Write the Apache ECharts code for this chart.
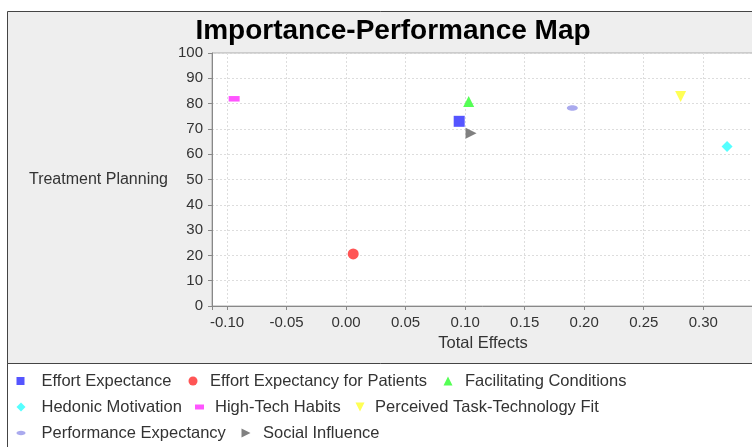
<!DOCTYPE html>
<html>
<head>
<meta charset="utf-8">
<script src="https://cdn.jsdelivr.net/npm/echarts@6/dist/echarts.min.js"></script>
<style>html,body{margin:0;padding:0;background:#fff}#c{width:752px;height:447px}</style>
</head>
<body>
<div id="c"></div>
<script>
var seriesNames = ['Effort Expectance','Effort Expectancy for Patients','Facilitating Conditions','Hedonic Motivation','High-Tech Habits','Perceived Task-Technology Fit','Performance Expectancy','Social Influence'];
var totalEffects = [0.095, 0.006, 0.103, 0.320, -0.094, 0.281, 0.190, 0.105];
var performance = [73.0, 20.6, 80.8, 63.0, 81.9, 82.8, 78.3, 68.3];
var colors = ['#5555ff','#ff5555','#55ff55','#55ffff','#ff55ff','#ffff55','#aaaaee','#808080'];
var symbols = ['rect','circle','triangle','diamond','rect','path://M0 0 H10 L5 10 Z','path://M0 5 C0 2.2 4.5 0 10 0 C15.5 0 20 2.2 20 5 C20 7.8 15.5 10 10 10 C4.5 10 0 7.8 0 5 Z','path://M0 0 L10 5 L0 10 Z'];
var xTickStep = 0.05;

var FONT = 'Liberation Sans, Arial, sans-serif';
var chart = echarts.init(document.getElementById('c'));

// legend layout: [iconLeft, rowTop, textOffset, iconW, iconH]
var legendPos = [[16.5,372,25,8,8],[188.5,372,21.5,9,9],[443.5,372,21.5,9,9],[16.5,398,25,9,9],[195,398,20,9,5],[355.5,398,19.5,9,9],[16.5,424,25,9,5],[241.5,424,21.5,9,9]];

var legends = seriesNames.map(function(n, i){
  var p = legendPos[i];
  return {
    data: [{name: n, icon: symbols[i]}],
    left: p[0], top: p[1],
    itemWidth: p[3], itemHeight: p[4],
    padding: 0,
    selectedMode: false,
    textStyle: {fontFamily: FONT, fontSize: 16.5, color: '#333', lineHeight: 18, padding: [0,0,0,p[2]-p[3]-5]}
  };
});

var series = seriesNames.map(function(n, i){
  var sz = (i === 4 || i === 6) ? [11, 5.5] : 11;
  return {
    name: n, type: 'scatter',
    symbol: symbols[i], symbolSize: sz, symbolKeepAspect: false,
    itemStyle: {color: colors[i], opacity: 1},
    data: [[totalEffects[i], performance[i]]]
  };
});

chart.setOption({
  backgroundColor: '#ffffff',
  animation: false,
  title: {
    text: 'Importance-Performance Map',
    left: 388, top: 12, textAlign: 'center',
    textStyle: {fontFamily: FONT, fontSize: 28, fontWeight: 'bold', color: '#000'}
  },
  graphic: [
    {type: 'rect', z: -10, silent: true, shape: {x: 7.5, y: 11.5, width: 760, height: 360}, style: {fill: '#eeeeee', stroke: '#444', lineWidth: 1}},
    {type: 'rect', z: -9, silent: true, shape: {x: 7.5, y: 363.5, width: 760, height: 100}, style: {fill: '#ffffff', stroke: '#444', lineWidth: 1}}
  ],
  legend: legends,
  grid: {left: 212, top: 53, right: -2, bottom: 141, outerBoundsMode: 'none', containLabel: false, show: true, backgroundColor: '#ffffff', borderColor: '#aaaaaa', borderWidth: 1},
  xAxis: {
    type: 'value', min: -0.1126, max: 0.3426, splitNumber: 9,
    name: 'Total Effects', nameLocation: 'middle', nameGap: 27,
    nameTextStyle: {fontFamily: FONT, fontSize: 16.5, color: '#333'},
    axisLine: {show: true, onZero: false, lineStyle: {color: '#888'}},
    axisTick: {show: true, length: 4, lineStyle: {color: '#888'}},
    axisLabel: {fontFamily: FONT, fontSize: 15, color: '#333', margin: 9,
      formatter: function(v){ var r = v / xTickStep; return Math.abs(r - Math.round(r)) < 1e-6 ? v.toFixed(2) : ''; }},
    splitLine: {show: true, lineStyle: {color: '#dddddd', type: [2, 2]}}
  },
  yAxis: {
    type: 'value', min: 0, max: 100, interval: 10,
    name: 'Treatment Planning', nameLocation: 'middle', nameRotate: 0, nameGap: 44,
    nameTextStyle: {fontFamily: FONT, fontSize: 16, color: '#333'},
    axisLine: {show: true, onZero: false, lineStyle: {color: '#888'}},
    axisTick: {show: true, length: 4, lineStyle: {color: '#888'}},
    axisLabel: {fontFamily: FONT, fontSize: 15, color: '#333', margin: 9},
    splitLine: {show: true, lineStyle: {color: '#dddddd', type: [2, 2]}}
  },
  series: series
});
</script>
</body>
</html>
